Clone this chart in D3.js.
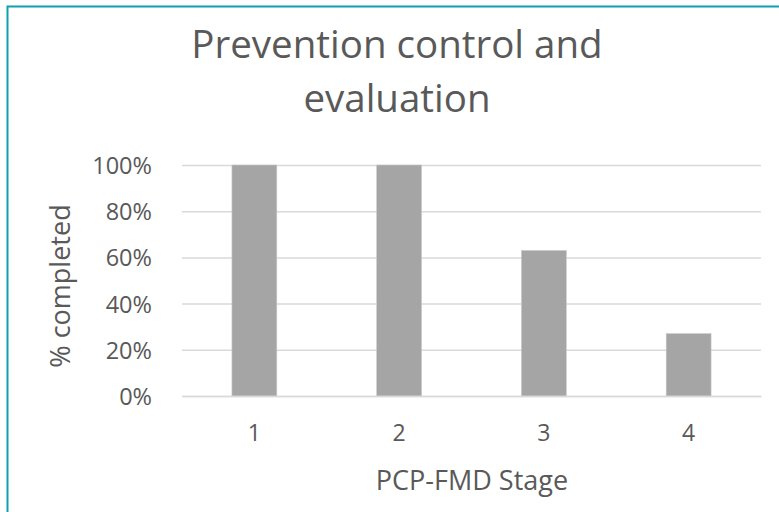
<!DOCTYPE html>
<html><head><meta charset="utf-8">
<script src="https://cdn.jsdelivr.net/npm/d3@7/dist/d3.min.js"></script>
<style>html,body{margin:0;padding:0;background:#fff;}svg{display:block;}</style>
</head><body>
<script>
const categories = ["1", "2", "3", "4"];
const values = [1.00, 1.00, 0.63, 0.27];
const yTicks = [0, 0.2, 0.4, 0.6, 0.8, 1.0];
const titleLines = ["Prevention control and", "evaluation"];
const xTitle = "PCP-FMD Stage";
const yTitle = "% completed";

const W = 779, H = 512;
const font = "'Open Sans', sans-serif";
const txt = "#595959";
const svg = d3.select("body").append("svg").attr("width", W).attr("height", H);
svg.append("rect").attr("x", 0).attr("y", 0).attr("width", W).attr("height", H).attr("fill", "#fff");
// border
svg.append("path").attr("d", "M7.5,520 V6.5 H790").attr("fill", "none").attr("stroke", "#0fa0b0").attr("stroke-width", 2);

const x = d3.scaleBand().domain(categories).range([182, 761]).paddingInner(0.69).paddingOuter(0.345);
const y = d3.scaleLinear().domain([0, 1]).range([396, 165]);

// gridlines
const gAxisY = svg.append("g").attr("transform", "translate(182,0)")
  .call(d3.axisLeft(y).tickValues(yTicks).tickFormat(d3.format(".0%")).tickSize(-579).tickPadding(30));
gAxisY.select(".domain").remove();
gAxisY.selectAll(".tick line").attr("stroke", "#d9d9d9").attr("stroke-width", 1.5);
gAxisY.selectAll(".tick text").attr("fill", txt).style("font-family", font).style("font-size", "23.5px").attr("dy", "0.36em");

// bars
svg.append("g").selectAll("rect").data(values).join("rect")
  .attr("x", (d, i) => x(categories[i]))
  .attr("width", x.bandwidth())
  .attr("y", d => y(d))
  .attr("height", d => y(0) - y(d))
  .attr("fill", "#a5a5a5")
  .attr("stroke", "#c8c8c8").attr("stroke-width", 0.6);

// x axis
const gAxisX = svg.append("g").attr("transform", "translate(0,396)")
  .call(d3.axisBottom(x).tickSize(0).tickPadding(0));
gAxisX.select(".domain").attr("stroke", "#d9d9d9").attr("stroke-width", 1.5);
gAxisX.selectAll(".tick text").attr("fill", txt).style("font-family", font).style("font-size", "23px")
  .attr("y", 45).attr("dy", null);

// titles
svg.append("g").selectAll("text").data(titleLines).join("text")
  .attr("x", 397).attr("y", (d, i) => 58 + i * 54)
  .attr("text-anchor", "middle").attr("fill", txt)
  .style("font-family", font).style("font-size", "38.5px").text(d => d);

svg.append("text").attr("x", 472).attr("y", 490).attr("text-anchor", "middle")
  .attr("fill", txt).style("font-family", font).style("font-size", "27px").text(xTitle);

svg.append("text").attr("transform", "translate(70,286) rotate(-90)").attr("text-anchor", "middle")
  .attr("fill", txt).style("font-family", font).style("font-size", "27px").text(yTitle);
</script>
</body></html>
